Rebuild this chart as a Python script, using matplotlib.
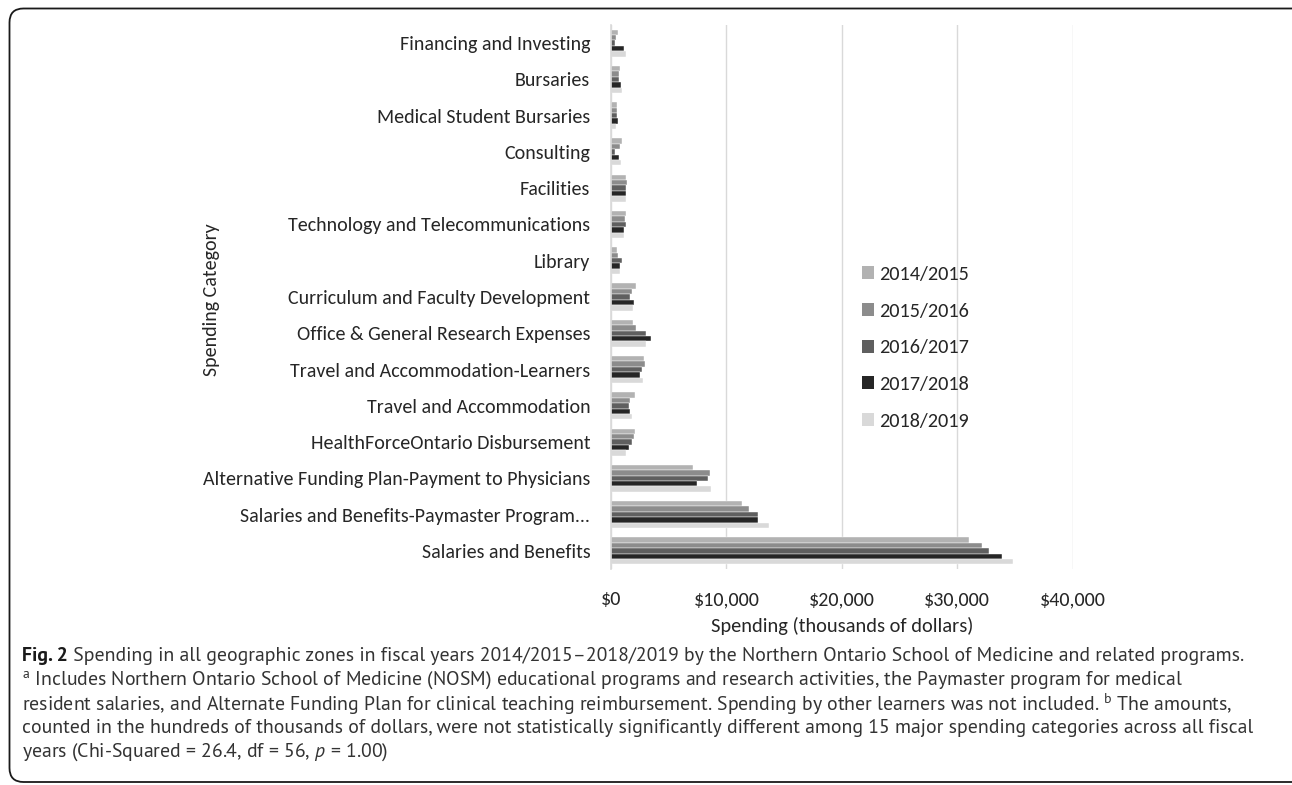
import matplotlib
matplotlib.use("Agg")
import matplotlib.pyplot as plt
from matplotlib.patches import Patch
from matplotlib.path import Path
from matplotlib.patches import PathPatch
from matplotlib import font_manager
import numpy as np

categories = [
    "Salaries and Benefits",
    "Salaries and Benefits-Paymaster Program...",
    "Alternative Funding Plan-Payment to Physicians",
    "HealthForceOntario Disbursement",
    "Travel and Accommodation",
    "Travel and Accommodation-Learners",
    "Office & General Research Expenses",
    "Curriculum and Faculty Development",
    "Library",
    "Technology and Telecommunications",
    "Facilities",
    "Consulting",
    "Medical Student Bursaries",
    "Bursaries",
    "Financing and Investing",
]
years = ["2014/2015", "2015/2016", "2016/2017", "2017/2018", "2018/2019"]

fy2014 = [31050, 11360, 7090, 2050, 2080, 2890, 1940, 2200, 550, 1330, 1270, 980, 520, 780, 580]
fy2015 = [32150, 12000, 8590, 2020, 1650, 2950, 2200, 1820, 640, 1210, 1420, 750, 550, 660, 400]
fy2016 = [32730, 12700, 8410, 1820, 1560, 2720, 3000, 1650, 920, 1270, 1270, 320, 490, 660, 350]
fy2017 = [33910, 12780, 7460, 1530, 1620, 2510, 3470, 1970, 750, 1130, 1300, 690, 580, 900, 1160]
fy2018 = [34870, 13680, 8670, 1270, 1820, 2750, 3060, 1900, 780, 1130, 1330, 840, 460, 950, 1270]
series = [fy2014, fy2015, fy2016, fy2017, fy2018]
colors = ["#b2b2b2", "#8c8c8c", "#5f5f5f", "#262626", "#d9d9d9"]

xticks = [0, 10000, 20000, 30000, 40000]
xticklabels = ["$0", "$10,000", "$20,000", "$30,000", "$40,000"]

ttf = font_manager.fontManager.ttflist
installed = {f.name for f in ttf}
def has_regular_bold(name):
    ws = {int(f.weight) if str(f.weight).isdigit() else f.weight for f in ttf
          if f.name == name and f.style == "normal"}
    return (400 in ws or "normal" in ws or "regular" in ws) and (700 in ws or "bold" in ws)

def pick(names, need_rb=False):
    for n in names:
        if n in installed and (not need_rb or has_regular_bold(n)):
            return n
    return "Open Sans"

CHART_FONT = pick(["Carlito", "Calibri", "Open Sans"])
CAP_FONT = pick(["Myriad Pro", "Source Sans Pro", "Source Sans 3", "PT Sans", "Fira Sans",
                 "Open Sans"], need_rb=True)
FONT = [CHART_FONT, "DejaVu Sans"]
CAPF = [CAP_FONT, "DejaVu Sans"]
plt.rcParams["font.family"] = FONT

W, H = 1292, 785
fig = plt.figure(figsize=(W / 100, H / 100), dpi=100)
fig.canvas.draw()
renderer = fig.canvas.get_renderer()

def fit(text, target_w, family, base=12.0, **kw):
    t = fig.text(0, 0, text, fontsize=base, family=family, **kw)
    w = t.get_window_extent(renderer).width
    t.remove()
    return base * target_w / w

tick_fs = fit("Alternative Funding Plan-Payment to Physicians", 388, FONT)
leg_fs = fit("2014/2015", 90, FONT)
xl_fs = fit("Spending (thousands of dollars)", 262, FONT)

ax = fig.add_axes([611 / W, 1 - 569 / H, (1072.5 - 611) / W, (569 - 25) / H])

h = 0.149
y = np.arange(len(categories))
for i, (vals, c) in enumerate(zip(series, colors)):
    ax.barh(y + (2 - i) * h, vals, height=h, color=c, label=years[i], zorder=3,
            edgecolor="white", linewidth=0.3)

TXT = "#262626"
ax.set_ylim(-0.5, len(categories) - 0.5)
ax.set_xlim(0, 40000)
ax.set_yticks(y)
ax.set_yticklabels(categories, fontsize=tick_fs, color=TXT)
ax.set_xticks(xticks)
ax.set_xticklabels(xticklabels, fontsize=tick_fs, color=TXT)
ax.tick_params(axis="both", length=0)
ax.tick_params(axis="y", pad=15)
ax.tick_params(axis="x", pad=16)
ax.grid(axis="x", color="#d9d9d9", linewidth=1, zorder=0)
for s in ["top", "right", "bottom"]:
    ax.spines[s].set_visible(False)
ax.spines["left"].set_color("#d9d9d9")
ax.spines["left"].set_linewidth(1.2)
ax.spines["left"].set_zorder(4)

ax.set_xlabel("Spending (thousands of dollars)", fontsize=xl_fs, color=TXT, labelpad=6)
fig.text(211 / W, 1 - 300 / H, "Spending Category", rotation=90, fontsize=tick_fs,
         color=TXT, ha="center", va="center")

handles = [Patch(facecolor=c, edgecolor="none", label=l) for c, l in zip(colors, years)]
leg = fig.legend(handles=handles, loc="upper left", bbox_to_anchor=(862 / W, 1 - 266 / H),
                 frameon=False, fontsize=leg_fs, labelspacing=40 / (leg_fs * 100 / 72) - 1.0,
                 handlelength=0.6, handleheight=0.6, handletextpad=0.25, borderpad=0,
                 borderaxespad=0)
for t in leg.get_texts():
    t.set_color(TXT)

# frame border (rounded corners on left)
r = 14
x0, y0 = 9.5, 8.5
yb = 782
verts = [(W + 5, y0), (x0 + r, y0), (x0, y0), (x0, y0 + r), (x0, yb - r), (x0, yb), (x0 + r, yb), (W + 5, yb)]
codes = [Path.MOVETO, Path.LINETO, Path.CURVE3, Path.CURVE3, Path.LINETO, Path.CURVE3, Path.CURVE3, Path.LINETO]
pverts = [(vx / W, 1 - vy / H) for vx, vy in verts]
fig.patches.append(PathPatch(Path(pverts, codes), transform=fig.transFigure,
                             facecolor="none", edgecolor="#1a1a1a", linewidth=1.3))

# caption
plt.rcParams["mathtext.fontset"] = "custom"
plt.rcParams["mathtext.rm"] = CAP_FONT
plt.rcParams["mathtext.it"] = CAP_FONT + ":italic"
cap_color = "#333333"
lines = [
    " Spending in all geographic zones in fiscal years 2014/2015\u20132018/2019 by the Northern Ontario School of Medicine and related programs.",
    r"$^{\mathrm{a}}$ Includes Northern Ontario School of Medicine (NOSM) educational programs and research activities, the Paymaster program for medical",
    r"resident salaries, and Alternate Funding Plan for clinical teaching reimbursement. Spending by other learners was not included. $^{\mathrm{b}}$ The amounts,",
    "counted in the hundreds of thousands of dollars, were not statistically significantly different among 15 major spending categories across all fiscal",
    r"years (Chi-Squared = 26.4, df = 56, $\it{p}$ = 1.00)",
]
ys = [656, 680, 704, 728, 752]

cap_fs = fit(lines[3], 1243, CAPF, base=14.0, fontweight="normal")

bold = fig.text(22 / W, 1 - ys[0] / H, "Fig. 2", fontsize=cap_fs, fontweight="bold",
                color="#1a1a1a", va="center", ha="left", family=CAPF)
bb = bold.get_window_extent(renderer)
fig.text(bb.x1 / W, 1 - ys[0] / H, lines[0], fontsize=cap_fs, color=cap_color,
         va="center", ha="left", family=CAPF, fontweight="normal")
for ln, yy in zip(lines[1:], ys[1:]):
    fig.text(22 / W, 1 - yy / H, ln, fontsize=cap_fs, color=cap_color, va="center",
             ha="left", family=CAPF, fontweight="normal")

fig.savefig("out.png", dpi=100)
